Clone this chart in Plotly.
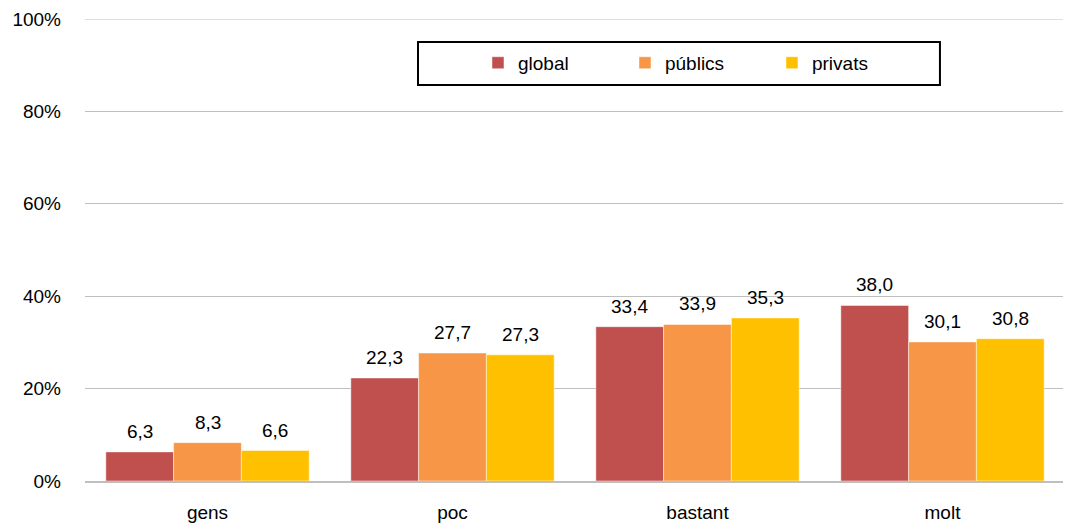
import plotly.graph_objects as go

categories = ["gens", "poc", "bastant", "molt"]
global_vals = [6.3, 22.3, 33.4, 38.0]
publics_vals = [8.3, 27.7, 33.9, 30.1]
privats_vals = [6.6, 27.3, 35.3, 30.8]
y_ticks = [0, 20, 40, 60, 80, 100]

series = [
    ("global", global_vals, "#C0504D"),
    ("públics", publics_vals, "#F79646"),
    ("privats", privats_vals, "#FFC000"),
]

FONT = "Liberation Sans, Arial, sans-serif"
FS = 19
GRID = "#BFBFBF"

# page body has an 8px default margin; size the figure to fit the window
W, H = 1063, 521
ML, MR, MT, MB = 77, 6, 11, 48
plot_w = W - ML - MR
bargap = 0.17
bar_w = plot_w / len(categories) * (1 - bargap) / len(series)

def fmt(v):
    return f"{v:.1f}".replace(".", ",")

fig = go.Figure()
annotations = []
for i, (name, vals, color) in enumerate(series):
    fig.add_trace(go.Bar(
        x=categories, y=vals, name=name,
        marker=dict(color=color, line=dict(color="rgba(255,255,255,0.6)", width=0.8)),
    ))
    shift = (i - (len(series) - 1) / 2) * bar_w
    for c, v in zip(categories, vals):
        annotations.append(dict(
            x=c, y=v, xref="x", yref="y", text=fmt(v), showarrow=False,
            xanchor="center", yanchor="bottom", xshift=shift, yshift=9,
            font=dict(size=FS, color="#000000", family=FONT), borderpad=0,
        ))

fig.update_layout(
    width=W, height=H,
    margin=dict(l=ML, r=MR, t=MT, b=MB, autoexpand=False),
    paper_bgcolor="white", plot_bgcolor="white",
    font=dict(family=FONT, size=FS, color="#000000"),
    barmode="group", bargap=bargap, bargroupgap=0,
    showlegend=True,
    legend=dict(orientation="h", x=0.401, xanchor="left", y=0.905, yanchor="middle",
                bgcolor="rgba(0,0,0,0)", borderwidth=0, entrywidth=102,
                font=dict(size=FS, family=FONT), traceorder="normal"),
    shapes=[
        dict(type="rect", xref="paper", yref="paper",
             x0=0.3398, x1=0.8724, y0=0.857, y1=0.950,
             line=dict(color="#000000", width=2), fillcolor="rgba(0,0,0,0)"),
        dict(type="line", xref="paper", yref="y", x0=0, x1=1,
             y0=y_ticks[-1], y1=y_ticks[-1], line=dict(color=GRID, width=1),
             layer="below"),
    ],
    annotations=annotations,
)
fig.update_yaxes(range=[0, 100], tickvals=y_ticks, ticktext=[f"{t}%" for t in y_ticks],
                 showgrid=True, gridcolor=GRID, gridwidth=1, zeroline=False,
                 showline=False, ticks="", ticklabelstandoff=23, automargin=False,
                 tickfont=dict(size=FS, family=FONT))
fig.update_xaxes(showline=True, linecolor=GRID, linewidth=1.5, ticks="",
                 ticklabelstandoff=13, automargin=False,
                 tickfont=dict(size=FS, family=FONT))

fig.write_html("out.html")
